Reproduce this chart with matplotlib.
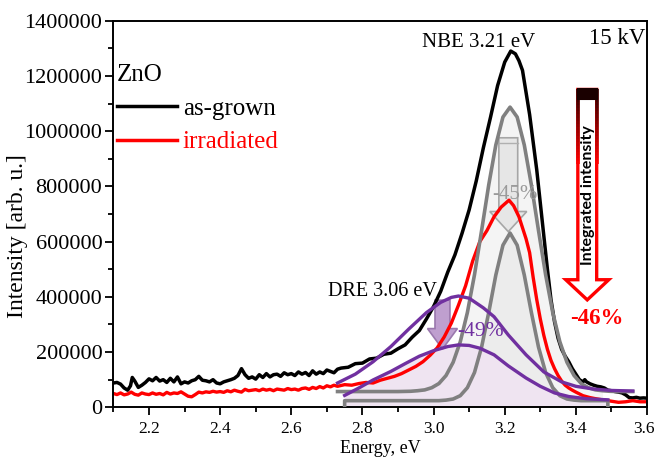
import numpy as np
import matplotlib
matplotlib.use("Agg")
import matplotlib.pyplot as plt
from matplotlib.patches import FancyArrow, Rectangle
from matplotlib.collections import LineCollection
from matplotlib.lines import Line2D
from matplotlib.ticker import MultipleLocator, FuncFormatter
from matplotlib.transforms import ScaledTranslation

plt.rcParams['font.family'] = ['Liberation Serif', 'DejaVu Serif']

# measured spectra (energy in eV, intensity in 1000 arb. u.)
e_grown = [2.100, 2.110, 2.120, 2.130, 2.140, 2.148, 2.153, 2.160, 2.170, 2.180,
           2.190, 2.200, 2.210, 2.220, 2.230, 2.240, 2.250, 2.260, 2.270, 2.280,
           2.290, 2.300, 2.310, 2.320, 2.330, 2.340, 2.350, 2.360, 2.370, 2.380,
           2.390, 2.400, 2.410, 2.420, 2.430, 2.440, 2.450, 2.460, 2.470, 2.480,
           2.490, 2.500, 2.510, 2.520, 2.530, 2.540, 2.550, 2.560, 2.570, 2.580,
           2.590, 2.600, 2.610, 2.620, 2.630, 2.640, 2.650, 2.660, 2.670, 2.680,
           2.690, 2.700, 2.710, 2.720, 2.730, 2.740, 2.760, 2.780, 2.800, 2.820,
           2.840, 2.860, 2.880, 2.900, 2.920, 2.940, 2.960, 2.980, 3.000, 3.020,
           3.040, 3.060, 3.080, 3.100, 3.120, 3.140, 3.160, 3.180, 3.200, 3.217,
           3.230, 3.240, 3.250, 3.260, 3.270, 3.280, 3.290, 3.300, 3.310, 3.320,
           3.330, 3.340, 3.350, 3.360, 3.370, 3.380, 3.390, 3.400, 3.410, 3.420,
           3.425, 3.430, 3.440, 3.450, 3.460, 3.470, 3.480, 3.490, 3.500, 3.510,
           3.520, 3.530, 3.540, 3.550, 3.560, 3.570, 3.580, 3.590, 3.600]
i_grown = [88, 90, 84, 70, 62, 78, 108, 95, 72, 80,
           90, 103, 96, 108, 95, 100, 90, 105, 92, 110,
           85, 92, 88, 96, 100, 112, 98, 96, 92, 100,
           88, 85, 92, 96, 100, 105, 115, 140, 118, 105,
           110, 102, 118, 108, 122, 110, 118, 120, 112, 125,
           118, 122, 115, 128, 120, 126, 115, 132, 120, 128,
           122, 135, 130, 125, 138, 142, 145, 158, 160, 175,
           178, 192, 196, 212, 226, 254, 278, 320, 365, 420,
           490, 552, 630, 715, 820, 940, 1050, 1165, 1250, 1290,
           1280, 1255, 1220, 1140, 1060, 960, 860, 740, 620, 500,
           390, 310, 250, 210, 185, 165, 140, 120, 100, 92,
           100, 92, 85, 80, 76, 74, 70, 62, 60, 57,
           55, 52, 45, 35, 34, 36, 33, 34, 33]

e_irr = [2.100, 2.110, 2.120, 2.130, 2.140, 2.150, 2.160, 2.170, 2.180, 2.190,
         2.200, 2.210, 2.220, 2.230, 2.240, 2.250, 2.260, 2.270, 2.280, 2.290,
         2.300, 2.310, 2.320, 2.330, 2.340, 2.350, 2.360, 2.370, 2.380, 2.390,
         2.400, 2.410, 2.420, 2.430, 2.440, 2.450, 2.460, 2.470, 2.480, 2.490,
         2.500, 2.510, 2.520, 2.530, 2.540, 2.550, 2.560, 2.570, 2.580, 2.590,
         2.600, 2.610, 2.620, 2.630, 2.640, 2.650, 2.660, 2.670, 2.680, 2.690,
         2.700, 2.710, 2.720, 2.730, 2.750, 2.770, 2.790, 2.810, 2.830, 2.850,
         2.870, 2.890, 2.910, 2.930, 2.950, 2.970, 2.990, 3.010, 3.030, 3.050,
         3.070, 3.090, 3.110, 3.130, 3.150, 3.170, 3.190, 3.212, 3.225, 3.240,
         3.250, 3.260, 3.270, 3.280, 3.290, 3.300, 3.310, 3.320, 3.330, 3.340,
         3.350, 3.360, 3.370, 3.380, 3.390, 3.400, 3.420, 3.440, 3.460, 3.480,
         3.500, 3.520, 3.540, 3.560, 3.580, 3.600]
i_irr = [50, 46, 52, 45, 48, 55, 47, 44, 52, 48,
         46, 52, 47, 50, 45, 54, 48, 52, 50, 56,
         48, 40, 38, 46, 55, 52, 56, 54, 58, 55,
         57, 54, 60, 56, 62, 58, 55, 65, 60, 62,
         64, 60, 66, 62, 65, 60, 66, 64, 62, 68,
         64, 66, 62, 68, 70, 65, 72, 68, 75, 70,
         78, 74, 80, 76, 82, 80, 86, 90, 88, 98,
         105, 112, 122, 135, 148, 165, 188, 215, 255, 305,
         370, 440, 530, 600, 640, 690, 725, 750, 730, 690,
         650, 610, 560, 470, 390, 320, 260, 210, 170, 140,
         115, 95, 80, 70, 62, 55, 42, 35, 30, 26,
         22, 18, 20, 24, 20, 20]

# fitted components
e_nbe_grown = [2.73, 2.80, 2.85, 2.90, 2.935, 2.955, 2.975, 2.995, 3.015, 3.035,
               3.055, 3.075, 3.095, 3.115, 3.135, 3.155, 3.175, 3.195, 3.215, 3.235,
               3.255, 3.275, 3.295, 3.315, 3.335, 3.355, 3.375, 3.395, 3.415, 3.435,
               3.455, 3.475, 3.495, 3.52, 3.56]
i_nbe_grown = [57, 57, 57, 57, 58, 60, 63, 71, 86, 115,
               163, 237, 343, 480, 640, 805, 950, 1051, 1087, 1051,
               950, 805, 640, 480, 343, 237, 163, 115, 86, 71,
               63, 60, 58, 57, 57]

e_nbe_irr = [2.75, 2.75, 2.85, 2.95, 3.015, 3.035, 3.055, 3.075, 3.095, 3.115,
             3.135, 3.155, 3.175, 3.195, 3.215, 3.235, 3.255, 3.275, 3.295, 3.315,
             3.335, 3.355, 3.375, 3.395, 3.415, 3.49, 3.49]
i_nbe_irr = [0, 24, 24, 24, 24, 26, 30, 42, 71, 126,
             218, 343, 479, 587, 631, 587, 479, 343, 218, 126,
             71, 42, 30, 26, 24, 24, 0]

e_dre_grown = [2.73, 2.78, 2.83, 2.88, 2.93, 2.98, 3.02, 3.05, 3.07, 3.10,
               3.14, 3.17, 3.21, 3.26, 3.31, 3.36, 3.40, 3.45, 3.50, 3.56]
i_dre_grown = [88, 120, 165, 220, 283, 343, 380, 398, 403, 395,
               360, 328, 262, 190, 128, 92, 76, 66, 61, 59]

e_dre_irr = [2.75, 2.79, 2.83, 2.88, 2.92, 2.96, 3.00, 3.04, 3.07, 3.10,
             3.13, 3.17, 3.21, 3.26, 3.30, 3.34, 3.38, 3.43, 3.49]
i_dre_irr = [43, 70, 99, 130, 158, 185, 205, 220, 226, 224,
             214, 190, 150, 106, 76, 52, 39, 31, 27]

labels = ['as-grown', 'irradiated']
k = 1000

purple = '#7030a0'
gray = '#808080'

fig = plt.figure(figsize=(6.56, 4.61), dpi=100)
ax = fig.add_axes([0.1729, 0.1165, 0.8134, 0.8386])

# shaded fit areas
en = np.array(e_nbe_grown)
mask = (en >= 2.75) & (en <= 3.49)
ax.fill_between(en, 0, np.array(i_nbe_grown) * k, where=mask, color='#f4f4f4', lw=0, zorder=0.5)
ax.fill_between(e_nbe_irr, 0, np.array(i_nbe_irr) * k, color='#ececec', lw=0, zorder=0.6)
ax.fill_between(e_dre_irr, 0, np.array(i_dre_irr) * k, color='#efe4f1', lw=0, zorder=0.7)

# arrows behind the curves
ax.add_patch(FancyArrow(3.210, 976 * k, 0, -340 * k, width=0.053, head_width=0.104,
                        head_length=73 * k, length_includes_head=True,
                        fc='#e6e6e6', ec='#a6a6a6', lw=1.2, zorder=1))
ax.plot([3.1835, 3.2365], [958 * k, 958 * k], color='#b0b0b0', lw=1, zorder=1.1)
ax.add_patch(FancyArrow(3.025, 388 * k, 0, -177 * k, width=0.042, head_width=0.084,
                        head_length=74 * k, length_includes_head=True,
                        fc='#bf9fcf', ec='#9a78ad', lw=1.2, zorder=1))

# spectra
ax.plot(e_grown, np.array(i_grown) * k, color='black', lw=2.5, zorder=2)
ax.plot(e_irr, np.array(i_irr) * k, color='#ff0000', lw=2.4, zorder=2.1)

# fitted components
ax.plot(e_nbe_grown, np.array(i_nbe_grown) * k, color=gray, lw=2.6, zorder=3)
ax.plot(e_nbe_irr, np.array(i_nbe_irr) * k, color=gray, lw=2.6, zorder=3)
ax.plot(e_dre_grown, np.array(i_dre_grown) * k, color=purple, lw=2.4, zorder=3.2)
ax.plot(e_dre_irr, np.array(i_dre_irr) * k, color=purple, lw=2.4, zorder=3.2)

# integrated-intensity arrow
ax.add_patch(FancyArrow(3.432, 1151 * k, 0, -762 * k, width=0.053, head_width=0.121,
                        head_length=73 * k, length_includes_head=True,
                        fc='white', ec='#ff0000', lw=2.4, zorder=4))
ys = np.linspace(1151 * k, 880 * k, 25)
segs, cols = [], []
for j in range(len(ys) - 1):
    t = j / (len(ys) - 2)
    c = (0.15 + 0.85 * t, 0.0, 0.0)
    for xe in (3.432 - 0.0265, 3.432 + 0.0265):
        segs.append([(xe, ys[j]), (xe, ys[j + 1])])
        cols.append(c)
ax.add_collection(LineCollection(segs, colors=cols, lw=2.6, zorder=4.1))
ax.add_patch(Rectangle((3.432 - 0.0265, 1115 * k), 0.053, 36 * k, fc='#1a0000',
                       ec='#1a0000', lw=1.5, zorder=4.2))
ax.text(3.434, 770 * k, 'Integrated intensity', rotation=90, ha='center', va='center',
        fontsize=11.5, fontweight='bold', family=['Lato', 'DejaVu Sans'], zorder=5)

# labels on the plot
ax.text(3.128, 1322 * k, 'NBE 3.21 eV', ha='center', va='center', fontsize=15)
ax.text(3.594, 1335 * k, '15 kV', ha='right', va='center', fontsize=16.5)
ax.text(3.009, 418 * k, 'DRE 3.06 eV', ha='right', va='center', fontsize=14.5)
ax.text(3.066, 276 * k, '-49%', ha='left', va='center', fontsize=15.5, color=purple, zorder=5)
ax.text(3.230, 772 * k, '-45%', ha='center', va='center', fontsize=15, color='#9a9a9a', zorder=5)
ax.text(3.458, 322 * k, '-46%', ha='center', va='center', fontsize=16.5,
        fontweight='bold', color='#ff0000', zorder=5)

handles = [Line2D([], [], color='black', lw=2.5), Line2D([], [], color='#ff0000', lw=2.5)]
ax.legend(handles, labels, title='ZnO', loc='upper left', bbox_to_anchor=(0.006, 0.888),
          frameon=False, fontsize=18, title_fontsize=18, alignment='left',
          handlelength=2.4, handletextpad=0.25, labelspacing=0.45, borderpad=0,
          borderaxespad=0, labelcolor=['black', '#ff0000'])

ax.set_xlim(2.1, 3.6)
ax.set_ylim(0, 1400000)
ax.xaxis.set_major_locator(MultipleLocator(0.2))
ax.xaxis.set_minor_locator(MultipleLocator(0.1))
ax.yaxis.set_major_locator(MultipleLocator(200000))
ax.yaxis.set_minor_locator(MultipleLocator(100000))
ax.xaxis.set_major_formatter(FuncFormatter(lambda v, p: f'{v:.1f}'))
ax.yaxis.set_major_formatter(FuncFormatter(lambda v, p: f'{int(round(v))}'))
ax.tick_params(which='both', direction='out', width=1.3)
ax.tick_params(which='major', length=6)
ax.tick_params(which='minor', length=3.5)
ax.tick_params(axis='y', labelsize=16, pad=2)
ax.tick_params(axis='x', labelsize=12.5, pad=4)
for s in ax.spines.values():
    s.set_linewidth(1.4)

ax.set_xlabel('Energy, eV', fontsize=13, labelpad=2)
ax.set_ylabel('Intensity [arb. u.]', fontsize=17)
ax.yaxis.set_label_coords(-0.160, 0.443)

# keep the last x tick label inside the canvas
fig.canvas.draw()
for lab in ax.get_xticklabels():
    if lab.get_text() == '3.6':
        lab.set_transform(lab.get_transform() + ScaledTranslation(-3 / 100, 0, fig.dpi_scale_trans))

fig.savefig('out.png', dpi=100)
